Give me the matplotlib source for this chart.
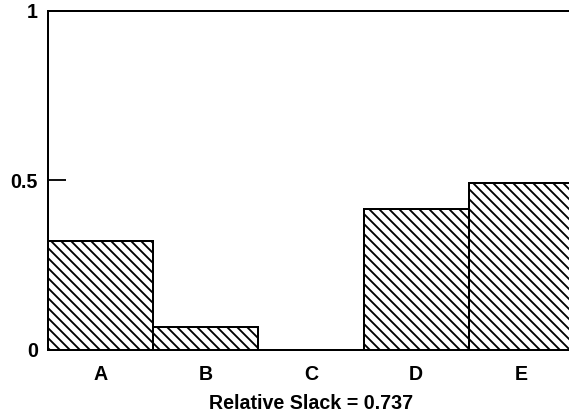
import matplotlib.pyplot as plt
import numpy as np

plt.rcParams['font.family'] = ['Liberation Sans', 'DejaVu Sans']
plt.rcParams['font.weight'] = 'bold'
plt.rcParams['hatch.linewidth'] = 1.1
plt.rcParams['hatch.color'] = 'black'

categories = ['A', 'B', 'C', 'D', 'E']
values = [0.32, 0.068, 0.0, 0.416, 0.493]
y_ticks = [0, 0.5, 1]
y_tick_labels = ['0', '0.5', '1']
xlabel = 'Relative Slack = 0.737'

DPI = 120
fig = plt.figure(figsize=(569 / DPI, 416 / DPI), dpi=DPI)
ax = fig.add_axes([0.0844, 0.1587, 0.9245, 0.815])

x = np.arange(len(categories))
ax.bar(x, values, width=1.0, color='white', edgecolor='black',
       linewidth=1.2, hatch='\\\\\\\\')

ax.set_xlim(-0.5, len(categories) - 0.5)
ax.set_ylim(0, 1)

ax.set_yticks(y_ticks)
ax.set_yticklabels(y_tick_labels)
ax.set_xticks(x)
ax.set_xticklabels(categories)

ax.tick_params(axis='y', direction='in', length=10.5, width=1.1,
               labelsize=11.8, pad=6)
ax.tick_params(axis='x', length=0, labelsize=11.8, pad=9)

for side in ['left', 'bottom', 'top']:
    ax.spines[side].set_linewidth(1.2)
ax.spines['right'].set_visible(False)

ax.set_xlabel(xlabel, fontsize=11.8, fontweight='bold', labelpad=6)

fig.savefig('out.png', dpi=DPI)
